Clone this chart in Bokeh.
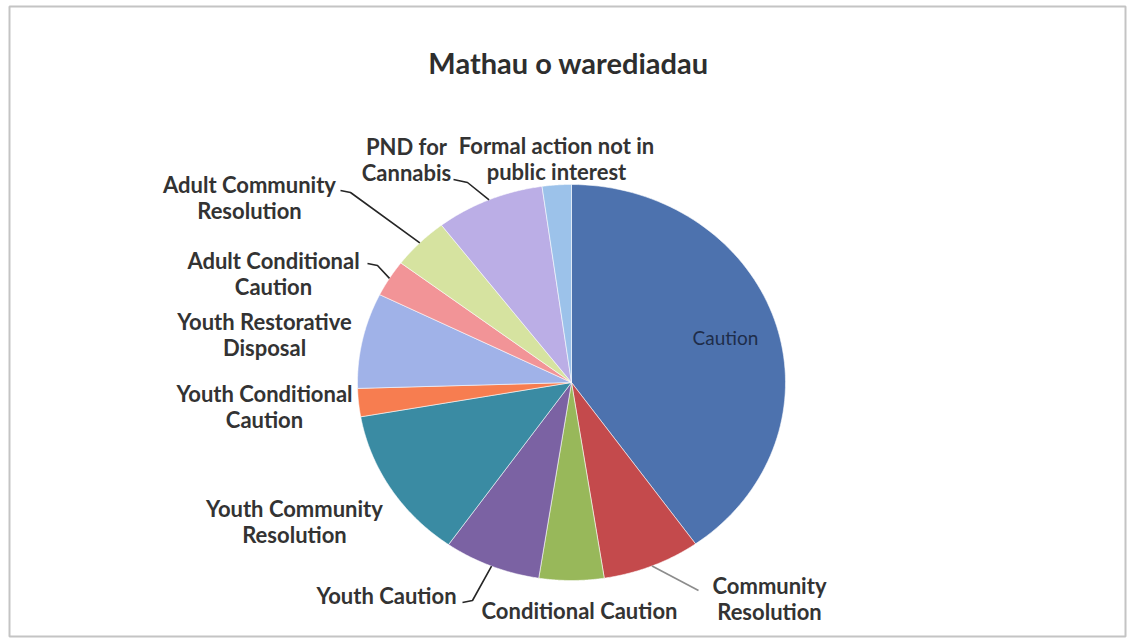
import numpy as np
from bokeh.plotting import figure
from bokeh.models import Range1d, ColumnDataSource
from bokeh.embed import file_html
from bokeh.resources import INLINE
from bokeh.core.properties import value

# ---------------- data ----------------
title_text = "Mathau o warediadau"
categories = [
    "Caution",
    "Community Resolution",
    "Conditional Caution",
    "Youth Caution",
    "Youth Community Resolution",
    "Youth Conditional Caution",
    "Youth Restorative Disposal",
    "Adult Conditional Caution",
    "Adult Community Resolution",
    "PND for Cannabis",
    "Formal action not in public interest",
]
values = [40.2, 7.4, 4.9, 7.3, 12.5, 2.3, 7.8, 3.0, 4.3, 8.2, 2.2]
label_lines = [
    "Caution",
    "Community\nResolution",
    "Conditional Caution",
    "Youth Caution",
    "Youth Community\nResolution",
    "Youth Conditional\nCaution",
    "Youth Restorative\nDisposal",
    "Adult Conditional\nCaution",
    "Adult Community\nResolution",
    "PND for\nCannabis",
    "Formal action not in\npublic interest",
]

# ---------------- styles / layout ----------------
colors = ["#4D72AE", "#C44A4C", "#98B85A", "#7B62A3", "#3A8BA3", "#F77D50",
          "#A0B2E8", "#F29497", "#D6E3A0", "#BBAEE6", "#9CC2EA"]
CX, CY, RX, RY = 571, 382, 214, 198
W, H = 1128, 638

# label centres in page pixels
label_pos = {
    "Caution": (725, 337),
    "Community Resolution": (769, 598),
    "Conditional Caution": (579, 610),
    "Youth Caution": (386, 595),
    "Youth Community Resolution": (294, 521),
    "Youth Conditional Caution": (264, 406),
    "Youth Restorative Disposal": (264, 334),
    "Adult Conditional Caution": (273, 273),
    "Adult Community Resolution": (249, 197),
    "PND for Cannabis": (406, 159),
    "Formal action not in public interest": (556, 158),
}
# leader line points near labels (the pie-side end is computed from the data)
leader_pts = {
    "Community Resolution": ([(698, 590)], "#8C8C8C"),
    "Youth Caution": ([(462, 602), (472, 600)], "#262626"),
    "Adult Conditional Caution": ([(367, 263), (377, 265)], "#262626"),
    "Adult Community Resolution": ([(340, 190), (350, 192)], "#262626"),
    "PND for Cannabis": ([(453, 179), (467, 182)], "#262626"),
}

# ---------------- figure ----------------
p = figure(width=W, height=H, output_backend="svg", toolbar_location=None,
           x_range=Range1d(0, W), y_range=Range1d(H, 0),
           min_border=0)
p.axis.visible = False
p.xgrid.visible = False
p.ygrid.visible = False
p.background_fill_color = "white"
p.border_fill_color = "white"
p.outline_line_color = None

# chart-area border
p.quad(left=[9], right=[1125], top=[6], bottom=[636], fill_color=None,
       line_color="#C4C4C4", line_width=2)

vals = np.array(values, dtype=float)
fr = vals / vals.sum()
ends = np.cumsum(fr) * 2 * np.pi
starts = ends - fr * 2 * np.pi
mids = (starts + ends) / 2

xs, ys = [], []
for s, e in zip(starts, ends):
    t = np.linspace(s, e, 80)
    xs.append([CX] + list(CX + RX * np.sin(t)) + [CX])
    ys.append([CY] + list(CY - RY * np.cos(t)) + [CY])

src = ColumnDataSource(dict(xs=xs, ys=ys, color=colors, name=categories))
p.patches("xs", "ys", source=src, fill_color="color", line_color="white",
          line_width=0.8, line_alpha=0.7)

# leader lines
lx, ly, lc = [], [], []
for i, c in enumerate(categories):
    if c in leader_pts:
        pts, col = leader_pts[c]
        ex = CX + RX * np.sin(mids[i])
        ey = CY - RY * np.cos(mids[i])
        lx.append([q[0] for q in pts] + [ex])
        ly.append([q[1] for q in pts] + [ey])
        lc.append(col)
p.multi_line(lx, ly, line_color=lc, line_width=1.6)

# labels
outside = [c for c in categories if c != "Caution"]
lsrc = ColumnDataSource(dict(
    x=[label_pos[c][0] for c in outside],
    y=[label_pos[c][1] for c in outside],
    t=[label_lines[categories.index(c)] for c in outside],
))
p.text("x", "y", text="t", source=lsrc, text_font=value("Lato"),
       text_font_style="bold", text_font_size="22px", text_color="#333333",
       text_align="center", text_baseline="middle", text_line_height=0.95)

p.text([label_pos["Caution"][0]], [label_pos["Caution"][1]], text=[label_lines[0]],
       text_font=value("Lato"), text_font_size="19px", text_color="#1E2D4A",
       text_align="center", text_baseline="middle")

p.text([568], [62], text=[title_text], text_font=value("Lato"),
       text_font_style="bold", text_font_size="29px", text_color="#2E2E2E",
       text_align="center", text_baseline="middle")

open("out.html", "w").write(file_html(p, INLINE))
